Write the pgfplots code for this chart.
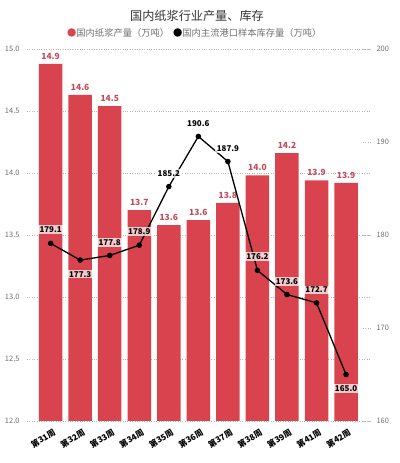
\documentclass[border=0pt]{standalone}
\usepackage{fontspec}
\setmainfont{Noto Sans CJK SC}
\usepackage{pgfplots}
\pgfplotsset{compat=1.18}
\definecolor{barred}{HTML}{D8434E}
\definecolor{barlab}{HTML}{C04B5C}
\definecolor{tickgray}{HTML}{707070}
\definecolor{gridgray}{HTML}{B8B8B8}
\begin{document}
\begin{tikzpicture}
\useasboundingbox (-27bp,-42bp) rectangle (373bp,421bp);
\begin{axis}[
  at={(0,0)}, anchor=south west,
  scale only axis, width=343bp, height=372bp,
  xmin=-0.8, xmax=10.81, ymin=12, ymax=15,
  axis x line*=bottom, axis y line*=left,
  axis line style={draw=none},
  major tick length=0pt,
  ytick={12,12.5,...,15},
  /pgf/number format/assume math mode=true,
  yticklabel style={/pgf/number format/fixed, /pgf/number format/fixed zerofill, /pgf/number format/precision=1, font=\fontsize{7.5}{8}\selectfont, text=tickgray, xshift=-4bp},
  ymajorgrids, grid style={gridgray, dotted, line width=0.6pt},
  xtick={0,...,10},
  xticklabels={第31周,第32周,第33周,第34周,第35周,第36周,第37周,第38周,第39周,第41周,第42周},
  xticklabel style={font=\bfseries\fontsize{8.3}{9}\selectfont, rotate=31, anchor=north east, inner sep=1bp, xshift=-1bp, yshift=-6bp},
]
\addplot[ybar, bar width=23.5bp, fill=barred, draw=none,
  nodes near coords={\pgfmathprintnumber[fixed,fixed zerofill,precision=1]{\pgfplotspointmeta}},
  every node near coord/.append style={font=\bfseries\fontsize{8.5}{9}\selectfont, text=barlab, anchor=south, yshift=1bp}]
table {
x y
0 14.88
1 14.63
2 14.54
3 13.70
4 13.58
5 13.62
6 13.76
7 13.98
8 14.16
9 13.94
10 13.92
};
\end{axis}
\begin{axis}[
  at={(0,0)}, anchor=south west,
  scale only axis, width=343bp, height=372bp,
  xmin=-0.8, xmax=10.81, ymin=160, ymax=200,
  axis y line*=right, axis x line=none,
  axis line style={draw=none},
  ytick={160,170,...,200},
  /pgf/number format/assume math mode=true,
  yticklabel style={font=\fontsize{7.5}{8}\selectfont, text=tickgray, xshift=3bp},
  major tick length=7bp,
  tick style={gridgray, dotted, line width=0.6pt},
  tick align=inside,
]
\addplot[black, line width=1.3pt, mark=*, mark size=2.1pt,
  mark options={fill=black},
  point meta=y,
  visualization depends on={\thisrow{s} \as \lshift},
  nodes near coords={\pgfmathprintnumber[fixed,fixed zerofill,precision=1]{\pgfplotspointmeta}},
  every node near coord/.append style={font=\bfseries\fontsize{8}{8.5}\selectfont, text=black, anchor=center, fill=white, fill opacity=0.72, text opacity=1, inner sep=1.3bp, yshift=\lshift bp}]
table {
x y s
0 179.1 14
1 177.3 -14
2 177.8 13
3 178.9 14
4 185.2 13
5 190.6 13
6 187.9 13
7 176.2 14
8 173.6 13
9 172.7 13
10 165.0 -14
};
\end{axis}
\node[font=\fontsize{12.2}{13}\selectfont, text=black!80] at (170bp,405bp) {国内纸浆行业产量、库存};
\node[font=\fontsize{9.3}{10}\selectfont, text=tickgray, anchor=west, inner sep=0pt] at (40bp,388bp) {\textcolor{barred}{●}国内纸浆产量（万吨）};
\node[font=\fontsize{9.3}{10}\selectfont, text=tickgray, anchor=west, inner sep=0pt] at (146bp,388bp) {\textcolor{black}{●}国内主流港口样本库存量（万吨）};
\end{tikzpicture}
\end{document}
